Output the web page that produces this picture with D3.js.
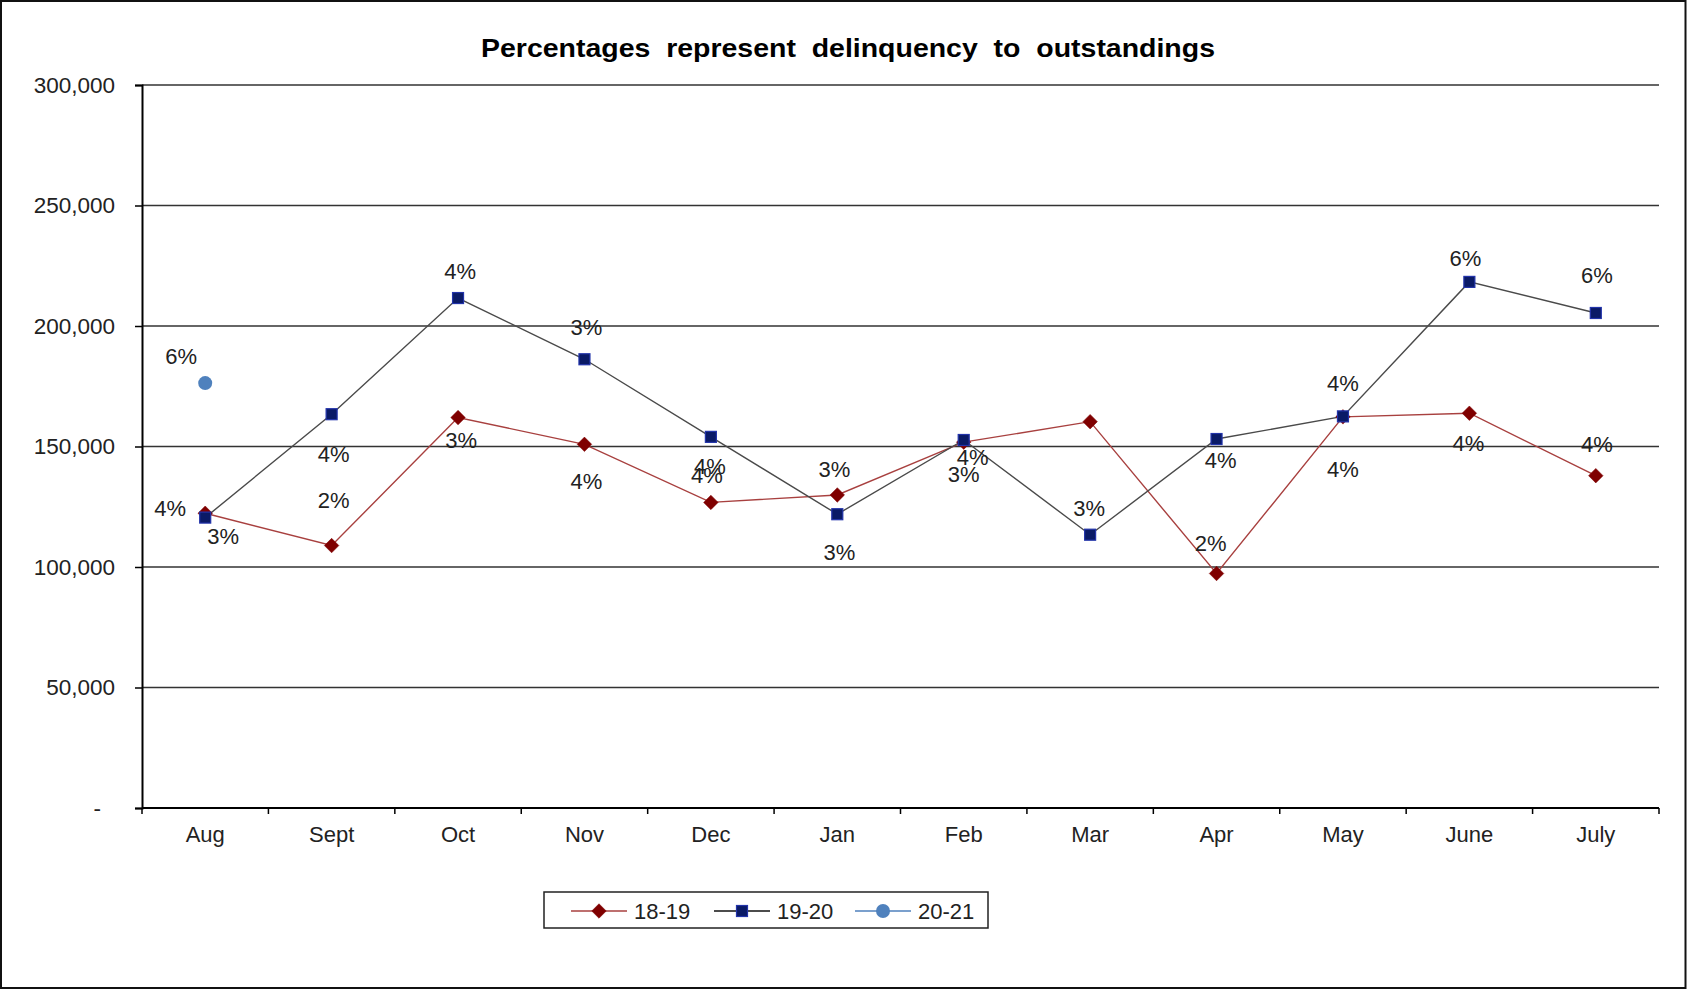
<!DOCTYPE html>
<html>
<head>
<meta charset="utf-8">
<script src="https://cdn.jsdelivr.net/npm/d3@7"></script>
<style>
  html, body { margin: 0; padding: 0; background: #fff; }
  svg { display: block; font-family: "Liberation Sans", Arial, sans-serif; }
</style>
</head>
<body>
<svg id="chart" width="1687" height="990"></svg>
<script>
// Monthly delinquency amounts by fiscal year (Aug - July)
const months = ["Aug", "Sept", "Oct", "Nov", "Dec", "Jan", "Feb", "Mar", "Apr", "May", "June", "July"];
const fy1819 = [122300, 108900, 162000, 150900, 126800, 129900, 151800, 160300, 97300, 162300, 163800, 137900];
const fy1920 = [120500, 163400, 211600, 186200, 154000, 121900, 152700, 113400, 153100, 162500, 218300, 205400];
const fy2021 = [176300, null, null, null, null, null, null, null, null, null, null, null];
// Delinquency as a share of outstandings
const pct1819 = ["4%", "2%", "3%", "4%", "4%", "3%", "3%", null, "2%", "4%", "4%", "4%"];
const pct1920 = ["3%", "4%", "4%", "3%", "4%", "3%", "4%", "3%", "4%", "4%", "6%", "6%"];
const pct2021 = ["6%", null, null, null, null, null, null, null, null, null, null, null];
const yTicks = [0, 50000, 100000, 150000, 200000, 250000, 300000];
const seriesNames = ["18-19", "19-20", "20-21"];

// Label placement relative to each marker [dx, dy] (layout only)
const place1819 = [[-35,-5],[2,-45],[3,22],[2,37],[-4,-27],[-3,-26],[0,32],[0,0],[-6,-30],[0,52],[-1,30],[1,-32]];
const place1920 = [[18,18],[2,40],[2,-27],[2,-32],[-1,29],[2,38],[9,17],[-1,-27],[4,21],[0,-33],[-4,-24],[1,-38]];
const place2021 = [[-24,-27]];

const svg = d3.select("#chart");
const W = 1687, H = 990;
const plot = { left: 142, right: 1659, top: 85, bottom: 808 };

// outer frame
svg.append("rect").attr("x", 1).attr("y", 1).attr("width", W - 2.5).attr("height", H - 3)
  .attr("fill", "#fff").attr("stroke", "#111").attr("stroke-width", 2);

const x = d3.scaleBand().domain(months).range([plot.left, plot.right]).padding(0);
const y = d3.scaleLinear().domain([0, 300000]).range([plot.bottom, plot.top]);

// title (wide word gaps kept)
svg.append("text")
  .attr("x", 848).attr("y", 57)
  .attr("text-anchor", "middle")
  .attr("font-size", 26).attr("font-weight", "bold")
  .attr("textLength", 734).attr("lengthAdjust", "spacingAndGlyphs")
  .style("white-space", "pre")
  .attr("fill", "#000")
  .text("Percentages  represent  delinquency  to  outstandings");

// horizontal gridlines
svg.append("g").selectAll("line")
  .data(yTicks.filter(d => d > 0))
  .join("line")
  .attr("x1", plot.left).attr("x2", plot.right)
  .attr("y1", d => y(d)).attr("y2", d => y(d))
  .attr("stroke", "#333").attr("stroke-width", 1.5);

// y axis
const fmt = d3.format(",");
const yAxis = d3.axisLeft(y).tickValues(yTicks).tickSize(7).tickPadding(20)
  .tickFormat(d => d === 0 ? "-" : fmt(d));
const gy = svg.append("g").attr("transform", `translate(${plot.left},0)`).call(yAxis);
gy.select(".domain").attr("stroke", "#000").attr("stroke-width", 2);
gy.selectAll(".tick line").attr("stroke", "#000").attr("stroke-width", 1.5);
gy.selectAll(".tick text").attr("font-size", 22.5).attr("fill", "#222")
  .attr("font-family", "Liberation Sans, Arial, sans-serif")
  .attr("dx", d => d === 0 ? -14 : 0);

// x axis with ticks at category boundaries
const gx = svg.append("g").attr("transform", `translate(0,${plot.bottom})`);
gx.append("line").attr("x1", plot.left).attr("x2", plot.right).attr("y1", 0).attr("y2", 0)
  .attr("stroke", "#000").attr("stroke-width", 2);
const bounds = months.map(m => x(m)).concat([plot.right]);
gx.selectAll("line.tk").data(bounds).join("line").attr("class", "tk")
  .attr("x1", d => d).attr("x2", d => d).attr("y1", 0).attr("y2", 6)
  .attr("stroke", "#000").attr("stroke-width", 1.5);
gx.selectAll("text").data(months).join("text")
  .attr("x", d => x(d) + x.bandwidth() / 2).attr("y", 34)
  .attr("text-anchor", "middle").attr("font-size", 22).attr("fill", "#222")
  .text(d => d);

const cx = i => x(months[i]) + x.bandwidth() / 2;

const series = [
  { name: seriesNames[0], values: fy1819, pct: pct1819, place: place1819, line: "#A8403F", fill: "#7F0000", stroke: "#7F0000", shape: "diamond" },
  { name: seriesNames[1], values: fy1920, pct: pct1920, place: place1920, line: "#4A4A4A", fill: "#0A1A66", stroke: "#2233AA", shape: "square" },
  { name: seriesNames[2], values: fy2021, pct: pct2021, place: place2021, line: "#4F81BD", fill: "#4F81BD", stroke: "#4F81BD", shape: "circle" }
];

function marker(g, s, px, py) {
  if (s.shape === "diamond") {
    g.append("path")
      .attr("d", d3.symbol(d3.symbolSquare, 105)())
      .attr("transform", `translate(${px},${py}) rotate(45)`)
      .attr("fill", s.fill).attr("stroke", s.stroke).attr("stroke-width", 0.5);
  } else if (s.shape === "square") {
    g.append("rect").attr("x", px - 5.5).attr("y", py - 5.5).attr("width", 11).attr("height", 11)
      .attr("fill", s.fill).attr("stroke", s.stroke).attr("stroke-width", 1.2);
  } else {
    g.append("circle").attr("cx", px).attr("cy", py).attr("r", 7).attr("fill", s.fill);
  }
}

const lineGen = d3.line().defined(d => d.v != null).x(d => cx(d.i)).y(d => y(d.v));

series.forEach(s => {
  const pts = s.values.map((v, i) => ({ v, i }));
  svg.append("path").datum(pts).attr("d", lineGen)
    .attr("fill", "none").attr("stroke", s.line).attr("stroke-width", 1.4);
});

series.forEach(s => {
  const g = svg.append("g");
  s.values.forEach((v, i) => { if (v != null) marker(g, s, cx(i), y(v)); });
});

// percentage labels
series.forEach(s => {
  s.values.forEach((v, i) => {
    if (v == null || s.pct[i] == null) return;
    const [dx, dy] = s.place[i];
    svg.append("text")
      .attr("x", cx(i) + dx).attr("y", y(v) + dy)
      .attr("dy", "0.36em")
      .attr("text-anchor", "middle").attr("font-size", 22).attr("fill", "#222")
      .text(s.pct[i]);
  });
});

// legend
const lg = svg.append("g");
lg.append("rect").attr("x", 544).attr("y", 892).attr("width", 444).attr("height", 36)
  .attr("fill", "#fff").attr("stroke", "#222").attr("stroke-width", 1.5);
const legendX = [571, 714, 855];
series.forEach((s, k) => {
  const lx = legendX[k], ly = 911;
  lg.append("line").attr("x1", lx).attr("x2", lx + 56).attr("y1", ly).attr("y2", ly)
    .attr("stroke", s.shape === "square" ? "#111" : s.line).attr("stroke-width", 1.5);
  marker(lg, s, lx + 28, ly);
  lg.append("text").attr("x", lx + 63).attr("y", ly).attr("dy", "0.36em")
    .attr("font-size", 22).attr("fill", "#222").text(s.name);
});
</script>
</body>
</html>
